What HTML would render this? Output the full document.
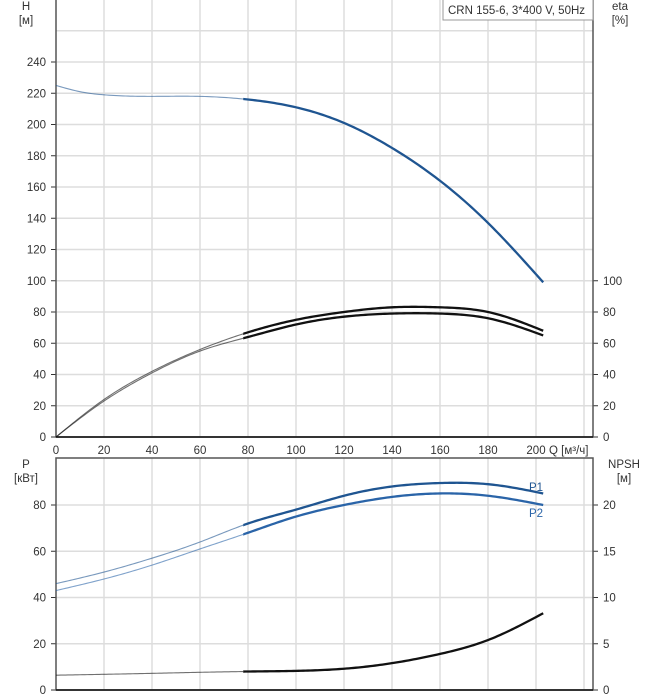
<!DOCTYPE html>
<html><head><meta charset="utf-8"><style>
body{margin:0;background:#fff;}
svg{display:block;font-family:"Liberation Sans",sans-serif;font-size:11.5px;fill:#333;}
</style></head><body>
<svg id="c" width="658" height="700"></svg>
<script>
const qTicks=[0,20,40,60,80,100,120,140,160,180,200];
const hTicks=[0,20,40,60,80,100,120,140,160,180,200,220,240];
const etaTicks=[0,20,40,60,80,100];
const pTicks=[0,20,40,60,80];
const npshTicks=[0,5,10,15,20];
const qH=[0,10,20,40,60,80,100,120,140,160,180,203];
const hVals=[225,221,219,218,218,216,211,201,185,164,137,99];
const qEta=[0,20,40,60,80,100,120,140,160,180,203];
const eta1=[0,24,42,56,67,75,80,83,83,80,68];
const eta2=[0,23,41,55,64,72,77,79,79,76,65];
const qP=[0,20,40,60,80,100,120,140,160,180,203];
const p1=[46,51,57,64,72,78,84,88,89.5,89,85];
const p2=[43,48,54,61,68,75,80,83.5,85,84,80];
const qN=[0,40,80,120,140,160,180,203];
const npsh=[1.6,1.8,2.0,2.3,2.9,3.9,5.4,8.3];

const svg=document.getElementById('c');
const NS='http://www.w3.org/2000/svg';
function mk(t,a,p){const e=document.createElementNS(NS,t);for(const k in a)e.setAttribute(k,a[k]);(p||svg).appendChild(e);return e;}
const X0=56,XR=593;
const x=q=>X0+q*2.4;
const yH=v=>437-v*1.5625;
const yP=v=>690-v*2.3125;
const yN=v=>690-v*9.25;

for(const q of [...qTicks,220]){
  if(q===0)continue;
  const g1=mk('line',{x1:x(q),x2:x(q),y1:0,y2:437,stroke:'#ddd','stroke-width':1.5});
  
  
  const g2=mk('line',{x1:x(q),x2:x(q),y1:458,y2:690,stroke:'#ddd','stroke-width':1.5});
  
  
}
for(const v of [...hTicks,260]){
  const g=mk('line',{x1:X0,x2:XR,y1:yH(v),y2:yH(v),stroke:'#ddd','stroke-width':1.5});
  
  
  if(v<=240){const t=mk('text',{x:46,y:yH(v)+4,'text-anchor':'end'});t.textContent=v;
  
  
  mk('line',{x1:X0-5,x2:X0,y1:yH(v),y2:yH(v),stroke:'#333'});}
}
for(const v of etaTicks){
  const t=mk('text',{x:603,y:yH(v)+4});t.textContent=v;
  
  
  mk('line',{x1:XR,x2:XR+5,y1:yH(v),y2:yH(v),stroke:'#333'});
}
for(const v of pTicks){
  const g=mk('line',{x1:X0,x2:XR,y1:yP(v),y2:yP(v),stroke:'#ddd','stroke-width':1.5});
  
  
  const t=mk('text',{x:46,y:yP(v)+4,'text-anchor':'end'});t.textContent=v;
  
  
  mk('line',{x1:X0-5,x2:X0,y1:yP(v),y2:yP(v),stroke:'#333'});
}
for(const v of npshTicks){
  const t=mk('text',{x:603,y:yN(v)+4});t.textContent=v;
  
  
  mk('line',{x1:XR,x2:XR+5,y1:yN(v),y2:yN(v),stroke:'#333'});
}
for(const q of qTicks){
  const t=mk('text',{x:x(q),y:454,'text-anchor':'middle'});t.textContent=q;
  
  
}
mk('rect',{x:X0,y:-1,width:XR-X0,height:438,fill:'none',stroke:'#555','stroke-width':1.5});
mk('line',{x1:X0,x2:XR,y1:437,y2:437,stroke:'#111','stroke-width':1.5});
mk('rect',{x:X0,y:458,width:XR-X0,height:232,fill:'none',stroke:'#555','stroke-width':1.5});
mk('line',{x1:X0,x2:XR,y1:690,y2:690,stroke:'#111','stroke-width':1.5});

function spline(xs,ys){
  const n=xs.length,h=[],al=[0],l=[1],mu=[0],z=[0],c=new Array(n).fill(0),b=[],d=[];
  for(let i=0;i<n-1;i++)h.push(xs[i+1]-xs[i]);
  for(let i=1;i<n-1;i++)al.push(3/h[i]*(ys[i+1]-ys[i])-3/h[i-1]*(ys[i]-ys[i-1]));
  for(let i=1;i<n-1;i++){l[i]=2*(xs[i+1]-xs[i-1])-h[i-1]*mu[i-1];mu[i]=h[i]/l[i];z[i]=(al[i]-h[i-1]*z[i-1])/l[i];}
  for(let j=n-2;j>=0;j--){c[j]=z[j]-mu[j]*c[j+1];b[j]=(ys[j+1]-ys[j])/h[j]-h[j]*(c[j+1]+2*c[j])/3;d[j]=(c[j+1]-c[j])/(3*h[j]);}
  return t=>{let i=0;while(i<n-2&&t>xs[i+1])i++;const dx=t-xs[i];return ys[i]+b[i]*dx+c[i]*dx*dx+d[i]*dx*dx*dx;};
}
function path(qs,vs,fy){
  const f=spline(qs,vs);const a=qs[0],e=qs[qs.length-1];let d='';
  for(let t=a;t<=e+1e-9;t+=1){d+=(d?' L':'M')+x(t).toFixed(2)+','+fy(f(t)).toFixed(2);}
  return d;
}
function curve(qs,vs,fy,color,name){
  const d=path(qs,vs,fy);
  const clip1='c1'+name,clip2='c2'+name;
  const defs=mk('defs',{});
  const cp1=mk('clipPath',{id:clip1},defs);mk('rect',{x:0,y:0,width:x(78),height:700},cp1);
  const cp2=mk('clipPath',{id:clip2},defs);mk('rect',{x:x(78),y:0,width:700,height:700},cp2);
  const a=mk('path',{d:d,fill:'none',stroke:color,'stroke-width':1.1,'stroke-opacity':0.6,'clip-path':'url(#'+clip1+')'});
  
  
  const b=mk('path',{d:d,fill:'none',stroke:color,'stroke-width':2.3,'clip-path':'url(#'+clip2+')'});
  
  
}
curve(qH,hVals,yH,'#1f5591','head');
curve(qEta,eta1,yH,'#111','eta-upper');
curve(qEta,eta2,yH,'#111','eta-lower');
curve(qP,p1,yP,'#1f5591','p1');
curve(qP,p2,yP,'#2a64a8','p2');
curve(qN,npsh,yN,'#111','npsh');

function txt(s,a,name,fill){const t=mk('text',a);t.textContent=s;if(fill)t.setAttribute('fill',fill);

return t;}
txt('H',{x:26,y:10,'text-anchor':'middle'},'h-axis-title');
txt('[м]',{x:26,y:24,'text-anchor':'middle'},'h-axis-unit');
txt('eta',{x:620,y:10,'text-anchor':'middle'},'eta-axis-title');
txt('[%]',{x:620,y:24,'text-anchor':'middle'},'eta-axis-unit');
txt('P',{x:26,y:468,'text-anchor':'middle'},'p-axis-title');
txt('[кВт]',{x:26,y:482,'text-anchor':'middle'},'p-axis-unit');
txt('NPSH',{x:624,y:468,'text-anchor':'middle'},'npsh-axis-title');
txt('[м]',{x:624,y:482,'text-anchor':'middle'},'npsh-axis-unit');
txt('Q [м³/ч]',{x:549,y:454},'q-axis-title');
txt('P1',{x:529,y:491},'p1-label','#1f5591');
txt('P2',{x:529,y:517},'p2-label','#2a64a8');
const lb=mk('rect',{x:443,y:-1,width:150,height:21,fill:'#fff',stroke:'#999'});


txt('CRN 155-6, 3*400 V, 50Hz',{x:448,y:14},'legend-title');
</script>
</body></html>
